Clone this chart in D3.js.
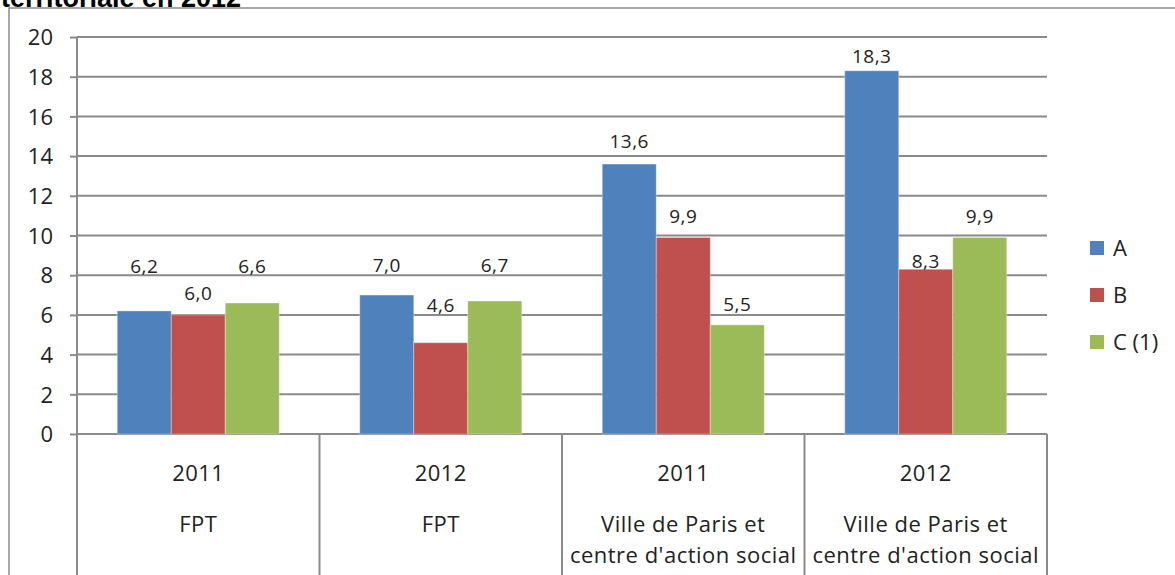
<!DOCTYPE html>
<html>
<head>
<meta charset="utf-8">
<script src="https://cdn.jsdelivr.net/npm/d3@7"></script>
<style>
  body { margin: 0; background: #fff; }
  svg { display: block; }
  text { font-family: "Open Sans", "Noto Sans", sans-serif; fill: #222; }
</style>
</head>
<body>
<svg id="chart" width="1175" height="575"></svg>
<script>
// values
const years = ["2011", "2012", "2011", "2012"];
const scopes = [["FPT"], ["FPT"], ["Ville de Paris et", "centre d'action social"], ["Ville de Paris et", "centre d'action social"]];
const seriesNames = ["A", "B", "C (1)"];
const valuesA = [6.2, 7.0, 13.6, 18.3];
const valuesB = [6.0, 4.6, 9.9, 8.3];
const valuesC = [6.6, 6.7, 5.5, 9.9];
const yTicks = [0, 2, 4, 6, 8, 10, 12, 14, 16, 18, 20];
// how far each value label sits above its bar, in axis units (labels were moved by hand)
const liftA = [2.24, 1.5, 1.14, 0.72];
const liftB = [1.1, 1.9, 1.08, 0.39];
const liftC = [1.84, 1.8, 1.05, 1.06];

const colors = ["#4f81bd", "#c0504d", "#9bbb59"];
const gridColor = "#8a8a8a";

const svg = d3.select("#chart");
const plot = { left: 77, right: 1047, top: 37, bottom: 434 };

const groups = d3.range(years.length);
const series = [valuesA, valuesB, valuesC];
const lifts = [liftA, liftB, liftC];

const x = d3.scaleBand().domain(groups).range([plot.left, plot.right]).padding(0);
const xInner = d3.scaleBand().domain(d3.range(series.length))
  .range([0, x.bandwidth()]).paddingInner(0).paddingOuter(0.745);
const y = d3.scaleLinear().domain([0, 20]).range([plot.bottom, plot.top]);

const fmt = (v) => d3.format(".1f")(v).replace(".", ",");

// outer frame (only top and left edges are in view)
svg.append("path")
  .attr("d", "M9,575V8H1175")
  .attr("fill", "none")
  .attr("stroke", gridColor)
  .attr("stroke-width", 1.5);

// title, cut off at the top as in the source
svg.append("text")
  .attr("x", 1)
  .attr("y", 7)
  .style("font-family", "'Liberation Sans', Arial, sans-serif")
  .style("font-weight", "bold")
  .style("font-size", "27px")
  .style("fill", "#000")
  .text("territoriale en 2012");

// y axis ticks and labels
const yAxis = d3.axisLeft(y)
  .tickValues(yTicks)
  .tickSize(7)
  .tickPadding(17)
  .tickFormat(d3.format("d"));

const gy = svg.append("g")
  .attr("transform", `translate(${plot.left},0)`)
  .call(yAxis);
gy.select(".domain").remove();
gy.selectAll(".tick line").attr("stroke", gridColor).attr("stroke-width", 2);
gy.selectAll(".tick text")
  .style("font-size", "22px")
  .attr("dy", "0.35em");

// gridlines
svg.append("g")
  .selectAll("line")
  .data(yTicks)
  .join("line")
  .attr("x1", plot.left)
  .attr("x2", plot.right)
  .attr("y1", (d) => y(d))
  .attr("y2", (d) => y(d))
  .attr("stroke", gridColor)
  .attr("stroke-width", 2);

svg.append("line")
  .attr("x1", plot.left).attr("x2", plot.left)
  .attr("y1", plot.top).attr("y2", plot.bottom)
  .attr("stroke", gridColor).attr("stroke-width", 2);

// category separators below the axis
const edges = groups.map((g) => x(g)).concat([plot.right]);
svg.append("g")
  .selectAll("line")
  .data(edges)
  .join("line")
  .attr("x1", (d) => d).attr("x2", (d) => d)
  .attr("y1", plot.bottom).attr("y2", 575)
  .attr("stroke", gridColor)
  .attr("stroke-width", 2);

// bars
const bars = svg.append("g");
series.forEach((vals, s) => {
  bars.selectAll(".bar-" + s)
    .data(vals)
    .join("rect")
    .attr("class", "bar-" + s)
    .attr("x", (d, i) => x(i) + xInner(s))
    .attr("width", xInner.bandwidth())
    .attr("y", (d) => y(d))
    .attr("height", (d) => y(0) - y(d))
    .attr("fill", colors[s])
    .attr("stroke", "rgba(255,255,255,0.35)")
    .attr("stroke-width", 1);
});

// value labels
const labels = svg.append("g");
series.forEach((vals, s) => {
  labels.selectAll(".lab-" + s)
    .data(vals)
    .join("text")
    .attr("class", "lab-" + s)
    .attr("x", (d, i) => x(i) + xInner(s) + xInner.bandwidth() / 2)
    .attr("y", (d, i) => y(d + lifts[s][i]))
    .attr("dy", "0.36em")
    .attr("text-anchor", "middle")
    .style("font-size", "19px")
    .style("letter-spacing", "0.5px")
    .text((d) => fmt(d));
});

// two-level category axis
const cats = svg.append("g")
  .selectAll("g")
  .data(groups)
  .join("g")
  .attr("transform", (g) => `translate(${x(g) + x.bandwidth() / 2},0)`);

cats.append("text")
  .attr("y", 481)
  .attr("text-anchor", "middle")
  .style("font-size", "22px")
  .style("letter-spacing", "0.4px")
  .text((g) => years[g]);

cats.each(function(g) {
  d3.select(this).selectAll(".scope")
    .data(scopes[g])
    .join("text")
    .attr("class", "scope")
    .attr("y", (d, k) => 532 + k * 31)
    .attr("text-anchor", "middle")
    .style("font-size", "22px")
    .style("letter-spacing", "0.5px")
    .text((d) => d);
});

// legend
const legend = svg.append("g")
  .selectAll("g")
  .data(seriesNames)
  .join("g")
  .attr("transform", (d, i) => `translate(1090,${248 + i * 47})`);

legend.append("rect")
  .attr("x", 0).attr("y", -7)
  .attr("width", 14).attr("height", 14)
  .attr("fill", (d, i) => colors[i]);

legend.append("text")
  .attr("x", 23)
  .attr("dy", "0.36em")
  .style("font-size", "22px")
  .text((d) => d);
</script>
</body>
</html>
